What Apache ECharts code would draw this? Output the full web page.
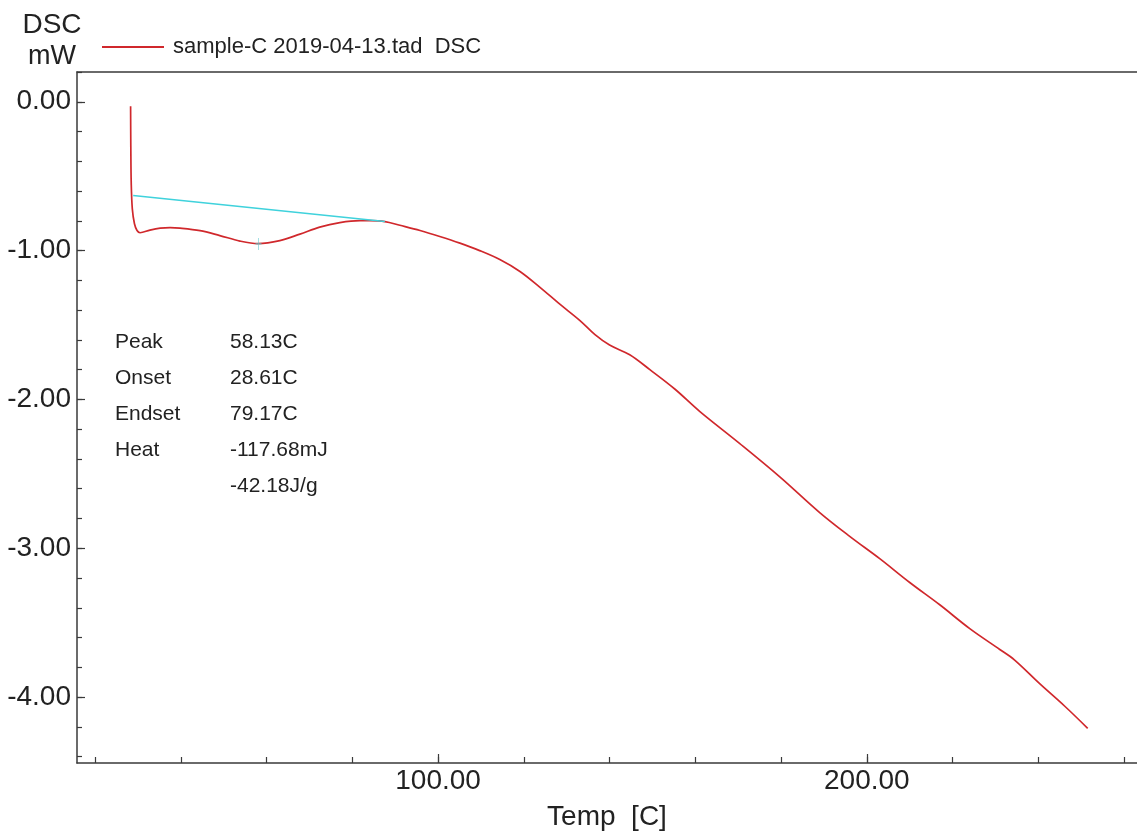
<!DOCTYPE html>
<html>
<head>
<meta charset="utf-8">
<script src="https://cdn.jsdelivr.net/npm/echarts@6/dist/echarts.min.js"></script>
<style>
html,body{margin:0;padding:0;background:#fff;}
#chart{width:1137px;height:836px;}
</style>
</head>
<body>
<div id="chart"></div>
<script>
// ---- data ----
const seriesName = 'sample-C 2019-04-13.tad  DSC';
const tempC = [28.3, 28.35, 28.45, 28.7, 29.2, 29.8, 30.5, 32.8, 35.2, 37.5, 39.8, 44.5, 49.1, 53.8, 58.0, 63.1, 67.8, 72.4, 77.1, 81.8, 84.1, 87.6, 91.1, 95.8, 100.4, 105.1, 109.7, 114.4, 119.1, 123.7, 128.4, 133.1, 136.6, 140.0, 144.7, 149.4, 155.2, 161.0, 170.3, 179.7, 189.0, 196.0, 203.0, 210.0, 217.0, 224.0, 231.0, 234.4, 240.3, 246.1, 251.5];
const dscMW = [-0.03, -0.30, -0.55, -0.72, -0.82, -0.865, -0.88, -0.862, -0.849, -0.846, -0.849, -0.866, -0.899, -0.936, -0.953, -0.933, -0.889, -0.842, -0.812, -0.799, -0.799, -0.805, -0.83, -0.865, -0.905, -0.95, -1.00, -1.06, -1.14, -1.245, -1.36, -1.47, -1.565, -1.635, -1.70, -1.80, -1.93, -2.08, -2.295, -2.52, -2.76, -2.92, -3.07, -3.23, -3.38, -3.54, -3.68, -3.75, -3.91, -4.06, -4.21];
const baselineT = [28.9, 87.6];
const baselineV = [-0.63, -0.805];
const peakT = [58.13];
const peakV = [-0.955];
const xMajorTicks = [100, 200];
const xMinorTicks = [20, 40, 60, 80, 100, 120, 140, 160, 180, 200, 220, 240, 260];
const yMajorTicks = [0, -1, -2, -3, -4];
const yMinorTicks = [0.2, 0, -0.2, -0.4, -0.6, -0.8, -1, -1.2, -1.4, -1.6, -1.8, -2, -2.2, -2.4, -2.6, -2.8, -3, -3.2, -3.4, -3.6, -3.8, -4, -4.2, -4.4];
const annoLabels = ['Peak', 'Onset', 'Endset', 'Heat', ''];
const annoValues = ['58.13C', '28.61C', '79.17C', '-117.68mJ', '-42.18J/g'];

// ---- chart ----
const FONT = '"Liberation Sans", Arial, sans-serif';
const AX = '#3a3a3a';
const chart = echarts.init(document.getElementById('chart'), null, {renderer: 'canvas'});

const mainData = tempC.map((t, i) => [t, dscMW[i]]);
const baseData = baselineT.map((t, i) => [t, baselineV[i]]);
const peakData = peakT.map((t, i) => [t, peakV[i]]);

const graphics = [
  {type: 'text', style: {text: 'DSC', x: 52, y: 25, font: '28px ' + FONT, fill: '#222', textAlign: 'center', textVerticalAlign: 'middle'}},
  {type: 'text', style: {text: 'mW', x: 52, y: 57, font: '27px ' + FONT, fill: '#222', textAlign: 'center', textVerticalAlign: 'middle'}}
];
annoLabels.forEach((s, i) => {
  const y = 342 + i * 36;
  if (s) graphics.push({type: 'text', style: {text: s, x: 115, y: y, font: '21px ' + FONT, fill: '#222', textVerticalAlign: 'middle'}});
  graphics.push({type: 'text', style: {text: annoValues[i], x: 230, y: y, font: '21px ' + FONT, fill: '#222', textVerticalAlign: 'middle'}});
});

const xMin = 15.8, xMax = 263, yMin = -4.443, yMax = 0.2;

chart.setOption({
  animation: false,
  backgroundColor: '#ffffff',
  textStyle: {fontFamily: FONT},
  legend: {
    left: 97, top: 31,
    icon: 'rect', itemWidth: 62, itemHeight: 2,
    data: [seriesName],
    textStyle: {fontSize: 22, color: '#222', fontFamily: FONT, padding: [0, 0, 0, 4]}
  },
  grid: {left: 77, right: 0, top: 72, bottom: 72, containLabel: false},
  xAxis: [
    {
      type: 'value', position: 'bottom', min: xMin, max: xMax,
      name: 'Temp  [C]', nameLocation: 'middle', nameGap: 40,
      nameTextStyle: {fontSize: 28, color: '#222', fontFamily: FONT},
      axisLine: {show: true, onZero: false, lineStyle: {color: AX, width: 1.5}},
      axisTick: {show: true, inside: true, length: 9, customValues: xMajorTicks, lineStyle: {color: AX, width: 1.2}},
      axisLabel: {show: true, customValues: xMajorTicks, margin: 4, fontSize: 28, color: '#222', fontFamily: FONT,
        formatter: v => v.toFixed(2)},
      splitLine: {show: false}
    },
    {
      type: 'value', position: 'bottom', min: xMin, max: xMax,
      axisLine: {show: false, onZero: false},
      axisTick: {show: true, inside: true, length: 6, customValues: xMinorTicks, lineStyle: {color: AX, width: 1.2}},
      axisLabel: {show: false},
      splitLine: {show: false}
    },
    {
      type: 'value', position: 'top', min: xMin, max: xMax,
      axisLine: {show: true, onZero: false, lineStyle: {color: AX, width: 1.5}},
      axisTick: {show: false}, axisLabel: {show: false}, splitLine: {show: false}
    }
  ],
  yAxis: [
    {
      type: 'value', position: 'left', min: yMin, max: yMax,
      axisLine: {show: true, onZero: false, lineStyle: {color: AX, width: 1.5}},
      axisTick: {show: true, inside: true, length: 8, customValues: yMajorTicks, lineStyle: {color: AX, width: 1.2}},
      axisLabel: {show: true, customValues: yMajorTicks, margin: 6, fontSize: 28, color: '#222', fontFamily: FONT,
        formatter: v => v.toFixed(2)},
      splitLine: {show: false}
    },
    {
      type: 'value', position: 'left', min: yMin, max: yMax,
      axisLine: {show: false, onZero: false},
      axisTick: {show: true, inside: true, length: 5, customValues: yMinorTicks, lineStyle: {color: AX, width: 1.2}},
      axisLabel: {show: false},
      splitLine: {show: false}
    }
  ],
  series: [
    {
      name: seriesName, type: 'line', xAxisIndex: 0, yAxisIndex: 0,
      data: mainData, smooth: 0.35, symbol: 'none',
      lineStyle: {color: '#d0282c', width: 1.7},
      itemStyle: {color: '#d0282c'},
      z: 3
    },
    {
      name: 'baseline', type: 'line', xAxisIndex: 0, yAxisIndex: 0,
      data: baseData, symbol: 'none',
      lineStyle: {color: '#3fd2dc', width: 1.6},
      z: 4
    },
    {
      name: 'peak', type: 'scatter', xAxisIndex: 0, yAxisIndex: 0,
      data: peakData,
      symbol: 'path://M5,0 L5,12 M2,6 L8,6', symbolSize: [6, 12],
      itemStyle: {color: 'none', borderColor: '#5fc8d0', borderWidth: 1},
      z: 5
    }
  ],
  graphic: graphics
});
</script>
</body>
</html>
